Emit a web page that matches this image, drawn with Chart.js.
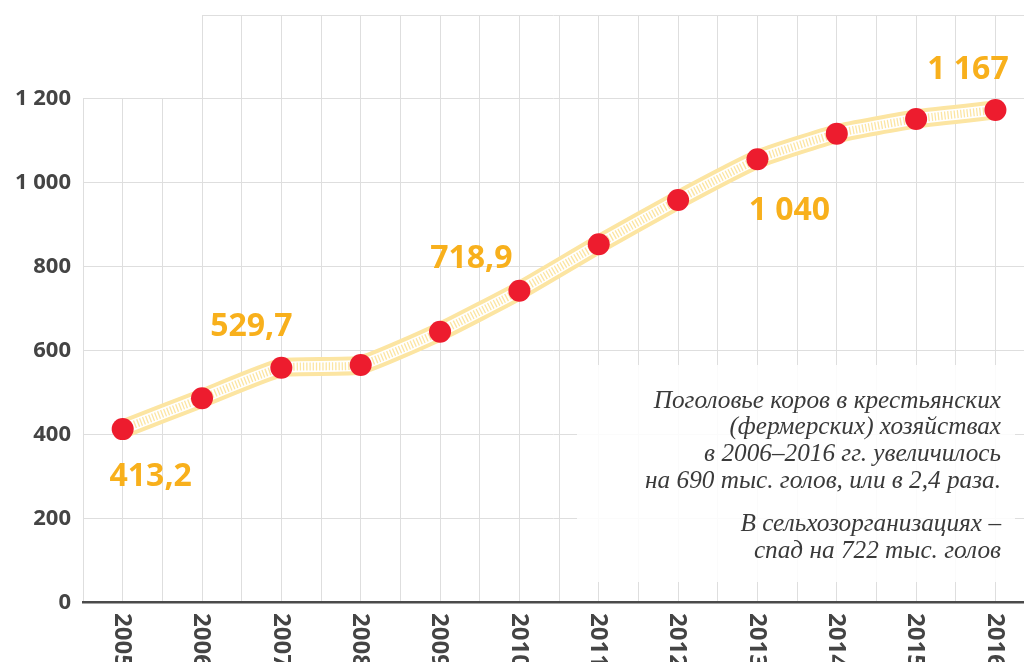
<!DOCTYPE html>
<html>
<head>
<meta charset="utf-8">
<script src="https://cdn.jsdelivr.net/npm/chart.js@4/dist/chart.umd.min.js"></script>
<style>
html,body{margin:0;padding:0;background:#fff;overflow:hidden}
#wrap{width:1024px;height:662px;position:relative}
</style>
</head>
<body>
<div id="wrap"><canvas id="c" width="1024" height="662"></canvas></div>
<script>
// ---- data ----
const years = [2005, 2006, 2007, 2008, 2009, 2010, 2011, 2012, 2013, 2014, 2015, 2016];
const cows = [413.2, 486.6, 559.6, 566.0, 645.4, 743.0, 853.7, 959.3, 1056.2, 1117.3, 1152.3, 1173.7];
const yGridValues = [0, 200, 400, 600, 800, 1000, 1200, 1400];
const valueLabelYears = [2005, 2007, 2010, 2013, 2016];
const valueLabelTexts = ['413,2', '529,7', '718,9', '1 040', '1 167'];
const noteLines = [
  'Поголовье коров в крестьянских',
  '(фермерских) хозяйствах',
  'в 2006–2016 гг. увеличилось',
  'на 690 тыс. голов, или в 2,4 раза.',
  '',
  'В сельхозорганизациях –',
  'спад на 722 тыс. голов'
];

// ---- styles ----
const labelOffsets = [[28, 46], [-30, -43], [-48, -34], [32, 50], [-27.5, -42.5]];
const GRID = '#dedede';
const AXIS = '#4a4a4a';
const TEXT = '#444444';
const ORANGE = '#f8b01c';
const RED = '#ed1c2e';
const BAND = '#fce5a2';
const TENSION = 0.15;

const fmt = v => String(v).replace(/\B(?=(\d{3})+(?!\d))/g, ' ');
const alignPx = p => Math.round(p - 0.5);

const points = years.map((yr, i) => ({x: yr, y: cows[i]}));

const decor = {
  id: 'decor',
  beforeDatasetsDraw(chart) {
    const {ctx, chartArea, scales: {x, y}} = chart;
    ctx.save();
    // blank top-left corner above the 1 200 line
    ctx.fillStyle = '#ffffff';
    const x0 = alignPx(chartArea.left);
    ctx.fillRect(x0, 0, alignPx(x.getPixelForValue(2006)) - x0, alignPx(y.getPixelForValue(1200)));
    // translucent note panel
    ctx.fillStyle = 'rgba(255,255,255,0.86)';
    ctx.fillRect(577, 365, 438, 217);
    ctx.restore();
  },
  afterDraw(chart) {
    const {ctx, scales: {x, y}} = chart;
    ctx.save();
    // rotated year labels
    ctx.fillStyle = TEXT;
    ctx.font = 'bold 24px "Open Sans"';
    ctx.textAlign = 'left';
    ctx.textBaseline = 'middle';
    years.forEach(yr => {
      ctx.save();
      ctx.translate(x.getPixelForValue(yr), 613);
      ctx.rotate(Math.PI / 2);
      ctx.fillText(String(yr), 0, 1);
      ctx.restore();
    });
    // value labels
    ctx.fillStyle = ORANGE;
    ctx.font = 'bold 32px "Open Sans"';
    ctx.textAlign = 'center';
    ctx.textBaseline = 'middle';
    valueLabelYears.forEach((yr, i) => {
      const idx = years.indexOf(yr);
      const px = x.getPixelForValue(yr) + labelOffsets[i][0];
      const py = y.getPixelForValue(cows[idx]) + labelOffsets[i][1];
      ctx.fillText(valueLabelTexts[i], px, py + 2);
    });
    // note text
    ctx.fillStyle = '#3a3a3a';
    ctx.font = 'italic 20px "Liberation Serif"';
    const w = ctx.measureText(noteLines[3]).width;
    const size = 20 * 356 / w;
    ctx.font = 'italic ' + size.toFixed(2) + 'px "Liberation Serif"';
    ctx.textAlign = 'right';
    ctx.textBaseline = 'alphabetic';
    let by = 407.5;
    noteLines.forEach(line => {
      if (line === '') { by += 16.7; return; }
      ctx.fillText(line, 1001, by);
      by += 26.7;
    });
    ctx.restore();
  }
};

new Chart(document.getElementById('c'), {
  type: 'line',
  data: {
    datasets: [
      { data: points, showLine: false, pointRadius: 11, pointHoverRadius: 11,
        pointBackgroundColor: RED, pointBorderWidth: 0, borderColor: RED },
      { data: points, borderColor: BAND, borderWidth: 8, borderDash: [1.3, 1.9],
        borderCapStyle: 'butt', tension: TENSION, pointRadius: 0, fill: false },
      { data: points, borderColor: '#ffffff', borderWidth: 11, borderCapStyle: 'butt',
        tension: TENSION, pointRadius: 0, fill: false },
      { data: points, borderColor: BAND, borderWidth: 19, borderCapStyle: 'butt',
        tension: TENSION, pointRadius: 0, fill: false }
    ]
  },
  options: {
    responsive: false,
    animation: false,
    devicePixelRatio: 1,
    events: [],
    layout: { autoPadding: false, padding: { top: 15, bottom: 59.5, left: 0, right: 0 } },
    plugins: { legend: { display: false }, tooltip: { enabled: false } },
    scales: {
      x: {
        type: 'linear', min: 2004.5, max: 2016.36,
        afterBuildTicks(s) {
          const t = [];
          years.forEach(yr => { t.push({value: yr - 0.5}); t.push({value: yr}); });
          t.push({value: years[years.length - 1] + 0.5});
          s.ticks = t.filter(o => o.value <= 2016.36);
        },
        afterFit(s) { s.height = 0; s.paddingLeft = 0; s.paddingRight = 0; },
        ticks: { display: false },
        grid: { color: GRID, lineWidth: 1, drawTicks: false },
        border: { display: true, color: AXIS, width: 2.5 }
      },
      y: {
        min: 0, max: 1400,
        afterBuildTicks(s) { s.ticks = yGridValues.map(v => ({value: v})); },
        afterFit(s) { s.width = 83; s.paddingTop = 0; s.paddingBottom = 0; },
        ticks: {
          padding: 12, color: TEXT,
          font: { family: 'Open Sans', weight: 'bold', size: 22 },
          callback: v => (v === 1400 ? '' : fmt(v))
        },
        grid: { color: c => (c.tick && c.tick.value === 0 ? 'rgba(0,0,0,0)' : GRID), lineWidth: 1, drawTicks: false },
        border: { display: false }
      }
    }
  },
  plugins: [decor]
});
</script>
</body>
</html>
